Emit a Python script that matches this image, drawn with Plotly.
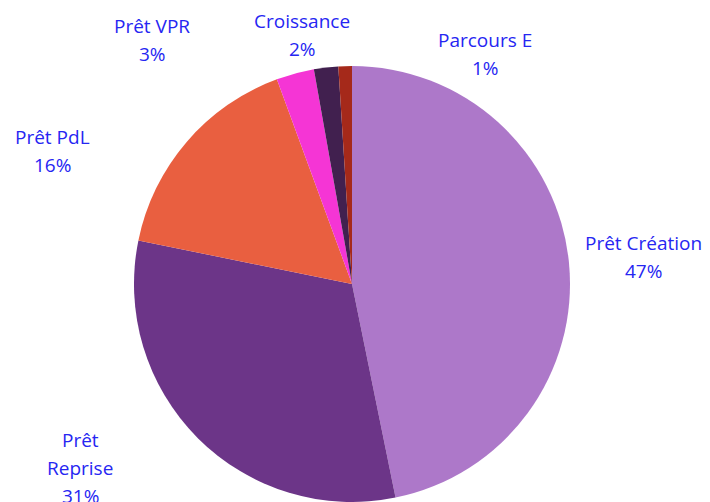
import plotly.graph_objects as go

labels = ["Prêt Création", "Prêt Reprise", "Prêt PdL", "Prêt VPR", "Croissance", "Parcours E"]
values = [46.8, 31.4, 16.2, 2.8, 1.8, 1.0]
colors = ["#ad78c9", "#6c3588", "#e95f40", "#f535d5", "#41204f", "#a5291a"]

# label display lines (wrapping as in the reference)
label_lines = {
    "Prêt Création": ["Prêt Création"],
    "Prêt Reprise": ["Prêt", "Reprise"],
    "Prêt PdL": ["Prêt PdL"],
    "Prêt VPR": ["Prêt VPR"],
    "Croissance": ["Croissance"],
    "Parcours E": ["Parcours E"],
}
# label centre positions in window pixels (x, y from top)
label_pos = {
    "Prêt Création": (643, 257),
    "Prêt Reprise": (80, 468),
    "Prêt PdL": (52, 151),
    "Prêt VPR": (152, 40),
    "Croissance": (302, 35),
    "Parcours E": (485, 54),
}

OFF = 8  # page body margin
W, H = 710 - OFF, 502 - OFF
cx, cy, r = 352 - OFF, 284 - OFF, 218
mt = cy - r
mb = max(0, H - (cy + r))
ph = H - mt - mb

fig = go.Figure(go.Pie(
    labels=labels,
    values=values,
    marker=dict(colors=colors, line=dict(width=0)),
    sort=False,
    direction="clockwise",
    rotation=0,
    textinfo="none",
    hoverinfo="label+percent",
    domain=dict(x=[(cx - r) / W, (cx + r) / W], y=[0, 1]),
    showlegend=False,
))

total = sum(values)
annotations = []
line_h = 28
for lab, v in zip(labels, values):
    lines = label_lines[lab] + [f"{round(v / total * 100)}%"]
    x0, y0 = label_pos[lab]
    x0 -= OFF
    y0 -= OFF
    n = len(lines)
    for i, t in enumerate(lines):
        ypix = y0 + (i - (n - 1) / 2) * line_h
        annotations.append(dict(
            text=t, x=x0 / W, y=1 - (ypix - mt) / ph, xref="paper", yref="paper",
            xanchor="center", yanchor="middle", showarrow=False,
            font=dict(family="Open Sans", size=19, color="#2626f2"),
        ))

fig.update_layout(
    width=W, height=H,
    margin=dict(l=0, r=0, t=mt, b=mb),
    paper_bgcolor="white",
    plot_bgcolor="white",
    annotations=annotations,
)
fig.write_html("out.html")
